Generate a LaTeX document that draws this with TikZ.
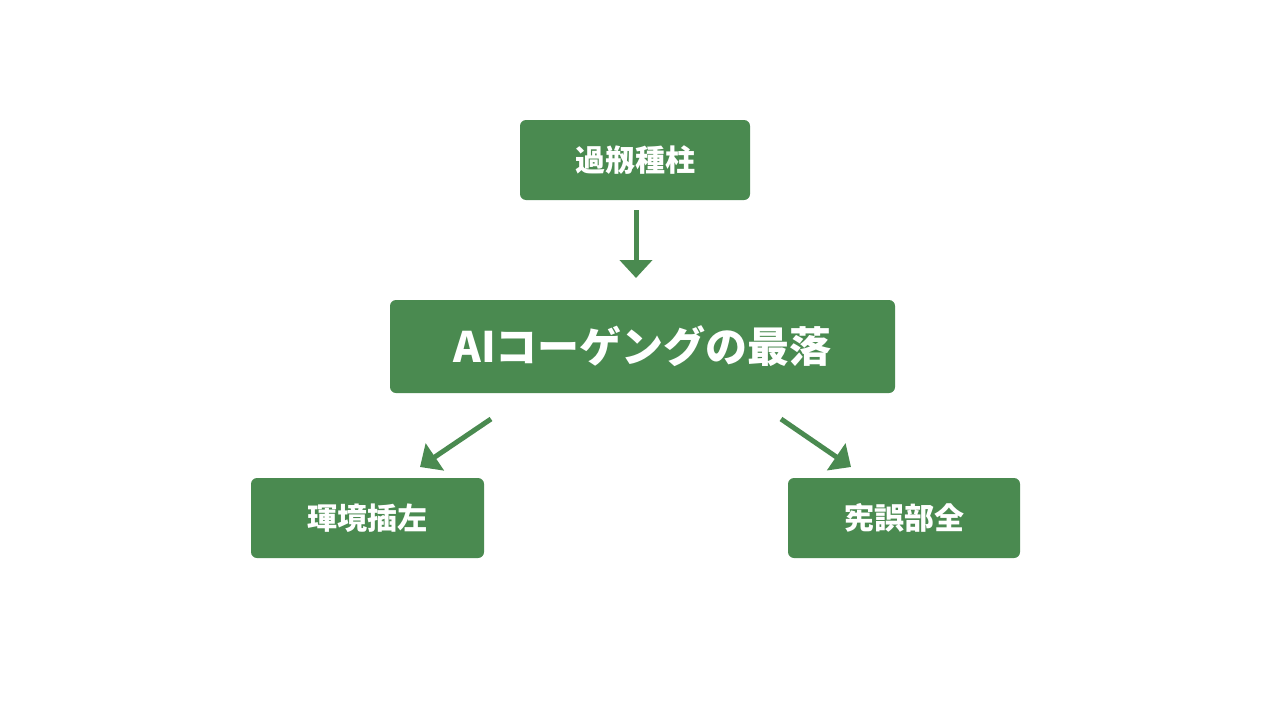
\documentclass[tikz,border=0pt]{standalone}
\usepackage{fontspec}
\setmainfont{Noto Sans CJK JP}
\usetikzlibrary{arrows.meta}
\definecolor{g}{HTML}{4A8A50}
\begin{document}
\begin{tikzpicture}[x=1pt,y=-1pt,
 box/.style={fill=g,rounded corners=6pt,text=white,font=\bfseries,anchor=center,inner sep=0pt},
 arr/.style={draw=g,line width=5pt,-{Triangle[length=18pt,width=32pt]}}]
\useasboundingbox[fill=white] (0,0) rectangle (1280,720);
\node[box,minimum width=230pt,minimum height=80pt,font=\bfseries\fontsize{30}{36}\selectfont] (t) at (635,160) {過剏種柱};
\node[box,minimum width=505pt,minimum height=93pt,font=\bfseries\fontsize{42}{50}\selectfont] (m) at (642.5,346.5) {AIコーゲングの最落};
\node[box,minimum width=233pt,minimum height=80pt,font=\bfseries\fontsize{30}{36}\selectfont] (l) at (367.5,518) {琿境插左};
\node[box,minimum width=232pt,minimum height=80pt,font=\bfseries\fontsize{30}{36}\selectfont] (r) at (904,518) {宪誤部全};
\coordinate (a1) at (636,210); \coordinate (a2) at (636,278);
\coordinate (b1) at (491,419); \coordinate (b2) at (420,467);
\coordinate (c1) at (781,419); \coordinate (c2) at (851,467);
\draw[arr] (a1) -- (a2);
\draw[arr] (b1) -- (b2);
\draw[arr] (c1) -- (c2);
\end{tikzpicture}
\end{document}
